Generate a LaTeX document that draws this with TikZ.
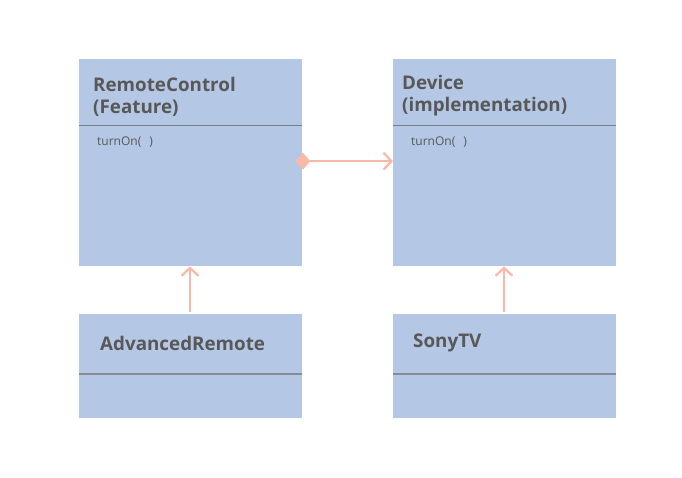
\documentclass[tikz,border=0pt]{standalone}
\usepackage{fontspec}
\setmainfont{Open Sans}
\usetikzlibrary{arrows.meta,shapes.geometric}
\definecolor{boxblue}{RGB}{180,199,228}
\definecolor{linkpink}{RGB}{250,184,166}
\definecolor{textgray}{RGB}{88,88,88}
\definecolor{rulegray}{RGB}{120,124,132}
\tikzset{
  umlbox/.style={fill=boxblue,anchor=north west,inner sep=0,minimum width=223pt},
  title/.style={anchor=north west,inner sep=0,align=left,text=textgray,
    font=\fontsize{18.8}{22}\selectfont\bfseries},
  method/.style={anchor=west,inner sep=0,text=textgray,font=\fontsize{12}{14}\selectfont},
  link/.style={draw=linkpink,line width=2.2pt},
  barb/.tip={Straight Barb[length=8pt,width=17pt,line width=2.2pt]},
}
\begin{document}
\begin{tikzpicture}[x=1pt,y=-1pt]
\useasboundingbox (0,0) rectangle (682,478);
% class boxes
\node[umlbox,minimum height=207pt] (rc) at (79,59) {};
\node[umlbox,minimum height=207pt] (dev) at (393,59) {};
\node[umlbox,minimum height=104pt] (adv) at (79,314) {};
\node[umlbox,minimum height=104pt] (sony) at (393,314) {};
% dividers
\draw[rulegray,line width=1pt] ([yshift=-67pt]rc.north west) -- ([yshift=-67pt]rc.north east);
\draw[rulegray,line width=1pt] ([yshift=-67pt]dev.north west) -- ([yshift=-67pt]dev.north east);
\draw[rulegray!80!boxblue,line width=1.5pt] ([yshift=-60pt]adv.north west) -- ([yshift=-60pt]adv.north east);
\draw[rulegray!80!boxblue,line width=1.5pt] ([yshift=-60pt]sony.north west) -- ([yshift=-60pt]sony.north east);
% texts
\node[title] (rctitle) at (93,77) {RemoteControl\\(Feature)};
\node[title] (devtitle) at (402,75) {Device\\(implementation)};
\node[title] (advtitle) at (100,336) {AdvancedRemote};
\node[title] (sonytitle) at (413,334) {SonyTV};
\node[method] (rcturn) at (97,142) {turnOn(\,\,\,\,)};
\node[method] (devturn) at (411,142) {turnOn(\,\,\,\,)};
% connectors
\node[diamond,fill=linkpink,inner sep=0,minimum width=15pt,minimum height=17pt,aspect=0.88] (agg)
  at ([xshift=0.5pt,yshift=1.5pt]rc.east) {};
\draw[link,-barb] (agg.center) -- (agg.center -| dev.west);
\draw[link,-barb] ([xshift=111pt,yshift=2pt]adv.north west) -- ([xshift=111pt]rc.south west);
\draw[link,-barb] ([xshift=111pt,yshift=2pt]sony.north west) -- ([xshift=111pt]dev.south west);
\end{tikzpicture}
\end{document}
